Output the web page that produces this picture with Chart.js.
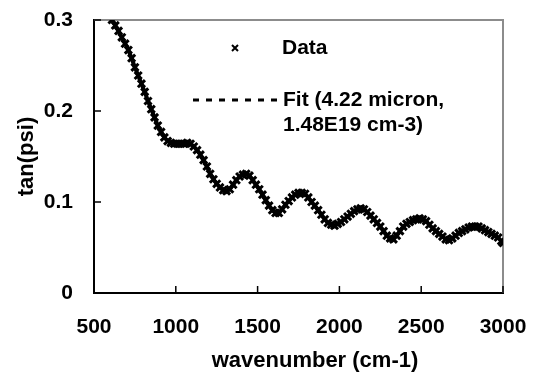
<!DOCTYPE html>
<html>
<head>
<meta charset="utf-8">
<script src="https://cdn.jsdelivr.net/npm/chart.js@4/dist/chart.umd.min.js"></script>
<style>
  html, body { margin: 0; padding: 0; background: #fff; }
</style>
</head>
<body>
<canvas id="grafico" width="535" height="374"></canvas>
<script>
// valores
const wavenumber = [
  610, 630, 650, 670, 690, 710, 730, 750, 770, 790, 810, 830, 850, 870, 890, 910, 930, 950, 970, 990,
  1010, 1030, 1050, 1070, 1090, 1110, 1130, 1150, 1170, 1190, 1210, 1230, 1250, 1270, 1290, 1310, 1330, 1350, 1370, 1390,
  1410, 1430, 1450, 1470, 1490, 1510, 1530, 1550, 1570, 1590, 1610, 1630, 1650, 1670, 1690, 1710, 1730, 1750, 1770, 1790,
  1810, 1830, 1850, 1870, 1890, 1910, 1930, 1950, 1970, 1990, 2010, 2030, 2050, 2070, 2090, 2110, 2130, 2150, 2170, 2190,
  2210, 2230, 2250, 2270, 2290, 2310, 2330, 2350, 2370, 2390, 2410, 2430, 2450, 2470, 2490, 2510, 2530, 2550, 2570, 2590,
  2610, 2630, 2650, 2670, 2690, 2710, 2730, 2750, 2770, 2790, 2810, 2830, 2850, 2870, 2890, 2910, 2930, 2950, 2970, 2990, 3000
];
const tanPsiData = [
  0.300, 0.294, 0.288, 0.281, 0.274, 0.267, 0.258, 0.248, 0.239, 0.230, 0.221, 0.211, 0.202, 0.193, 0.184, 0.177, 0.171, 0.167, 0.165, 0.164,
  0.164, 0.164, 0.164, 0.165, 0.164, 0.161, 0.157, 0.152, 0.146, 0.139, 0.131, 0.125, 0.120, 0.116, 0.113, 0.112, 0.114, 0.119, 0.124, 0.128,
  0.130, 0.131, 0.129, 0.124, 0.119, 0.114, 0.108, 0.102, 0.096, 0.091, 0.088, 0.088, 0.092, 0.097, 0.101, 0.105, 0.108, 0.110, 0.110, 0.109,
  0.105, 0.100, 0.096, 0.091, 0.086, 0.081, 0.077, 0.075, 0.074, 0.076, 0.078, 0.081, 0.084, 0.087, 0.090, 0.092, 0.093, 0.092, 0.089, 0.085,
  0.081, 0.077, 0.073, 0.068, 0.063, 0.060, 0.059, 0.063, 0.068, 0.073, 0.076, 0.078, 0.080, 0.081, 0.082, 0.081, 0.079, 0.075, 0.071, 0.068,
  0.065, 0.062, 0.059, 0.058, 0.060, 0.063, 0.066, 0.068, 0.070, 0.072, 0.073, 0.073, 0.073, 0.071, 0.069, 0.067, 0.065, 0.063, 0.061, 0.057, 0.055
];
// el ajuste queda tapado por los datos
const tanPsiFit = tanPsiData;

const xTicks = [500, 1000, 1500, 2000, 2500, 3000];
const yTicks = [0, 0.1, 0.2, 0.3];

const fuente = 'Arial, Liberation Sans, sans-serif';

// marco gris, marcas hacia dentro, titulo x y leyenda
const extras = {
  id: 'extras',
  beforeDatasetsDraw(chart) {
    const { ctx, chartArea: a } = chart;
    ctx.save();
    ctx.strokeStyle = '#8c8c8c';
    ctx.lineWidth = 2;
    ctx.beginPath();
    ctx.moveTo(a.left, a.top);
    ctx.lineTo(a.right, a.top);
    ctx.lineTo(a.right, a.bottom);
    ctx.stroke();
    ctx.strokeStyle = '#000';
    ctx.lineWidth = 1.5;
    ctx.beginPath();
    xTicks.forEach(v => {
      const px = chart.scales.x.getPixelForValue(v);
      ctx.moveTo(px, a.bottom);
      ctx.lineTo(px, a.bottom - 7);
    });
    yTicks.forEach(v => {
      const py = chart.scales.y.getPixelForValue(v);
      ctx.moveTo(a.left, py);
      ctx.lineTo(a.left + 7, py);
    });
    ctx.stroke();
    ctx.restore();
  },
  afterDraw(chart) {
    const { ctx } = chart;
    ctx.save();
    ctx.fillStyle = '#000';
    ctx.font = 'bold 22px ' + fuente;
    ctx.textAlign = 'center';
    ctx.textBaseline = 'middle';
    ctx.fillText('wavenumber (cm-1)', 315, 361);

    // leyenda
    ctx.strokeStyle = '#000';
    ctx.lineWidth = 2;
    ctx.beginPath();
    ctx.moveTo(232, 45); ctx.lineTo(238, 51);
    ctx.moveTo(238, 45); ctx.lineTo(232, 51);
    ctx.stroke();
    ctx.lineWidth = 3;
    ctx.setLineDash([6, 7]);
    ctx.beginPath();
    ctx.moveTo(193, 100); ctx.lineTo(278, 100);
    ctx.stroke();
    ctx.setLineDash([]);
    ctx.font = 'bold 21px ' + fuente;
    ctx.textAlign = 'left';
    ctx.fillText('Data', 282, 48);
    ctx.fillText('Fit (4.22 micron,', 283, 100);
    ctx.fillText('1.48E19 cm-3)', 283, 125);
    ctx.restore();
  }
};

const ctx = document.getElementById('grafico').getContext('2d');
const myChart = new Chart(ctx, {
  type: 'scatter',
  data: {
    datasets: [
      {
        label: 'Data',
        data: wavenumber.map((w, i) => ({ x: w, y: tanPsiData[i] })),
        showLine: false,
        pointStyle: 'crossRot',
        pointRadius: 5,
        pointBorderWidth: 3,
        borderColor: '#000',
        backgroundColor: '#000',
        order: 0
      },
      {
        label: 'Fit (4.22 micron, 1.48E19 cm-3)',
        data: wavenumber.map((w, i) => ({ x: w, y: tanPsiFit[i] })),
        showLine: true,
        pointRadius: 0,
        borderColor: '#000',
        borderWidth: 4,
        order: 1
      }
    ]
  },
  options: {
    responsive: false,
    animation: false,
    devicePixelRatio: 1,
    layout: { padding: { left: 0, right: 32, top: 20, bottom: 0 } },
    plugins: {
      legend: { display: false },
      tooltip: { enabled: false }
    },
    scales: {
      x: {
        type: 'linear',
        min: 500,
        max: 3000,
        afterFit: s => { s.height = 81; s.paddingLeft = 0; s.paddingRight = 0; },
        afterBuildTicks: s => { s.ticks = xTicks.map(v => ({ value: v })); },
        ticks: {
          padding: 22,
          color: '#000',
          font: { family: fuente, size: 21, weight: 'bold' },
          callback: v => String(v)
        },
        grid: { drawOnChartArea: false, drawTicks: false },
        border: { display: true, color: '#000', width: 2 }
      },
      y: {
        min: 0,
        max: 0.3,
        afterFit: s => { s.width = 94; s.paddingTop = 0; s.paddingBottom = 0; },
        afterBuildTicks: s => { s.ticks = yTicks.map(v => ({ value: v })); },
        ticks: {
          padding: 21,
          color: '#000',
          font: { family: fuente, size: 21, weight: 'bold' },
          callback: v => String(+v.toFixed(1))
        },
        grid: { drawOnChartArea: false, drawTicks: false },
        border: { display: true, color: '#000', width: 2 },
        title: {
          display: true,
          text: 'tan(psi)',
          color: '#000',
          font: { family: fuente, size: 22, weight: 'bold' },
          padding: { top: 14, bottom: 0 }
        }
      }
    }
  },
  plugins: [extras]
});
</script>
</body>
</html>
